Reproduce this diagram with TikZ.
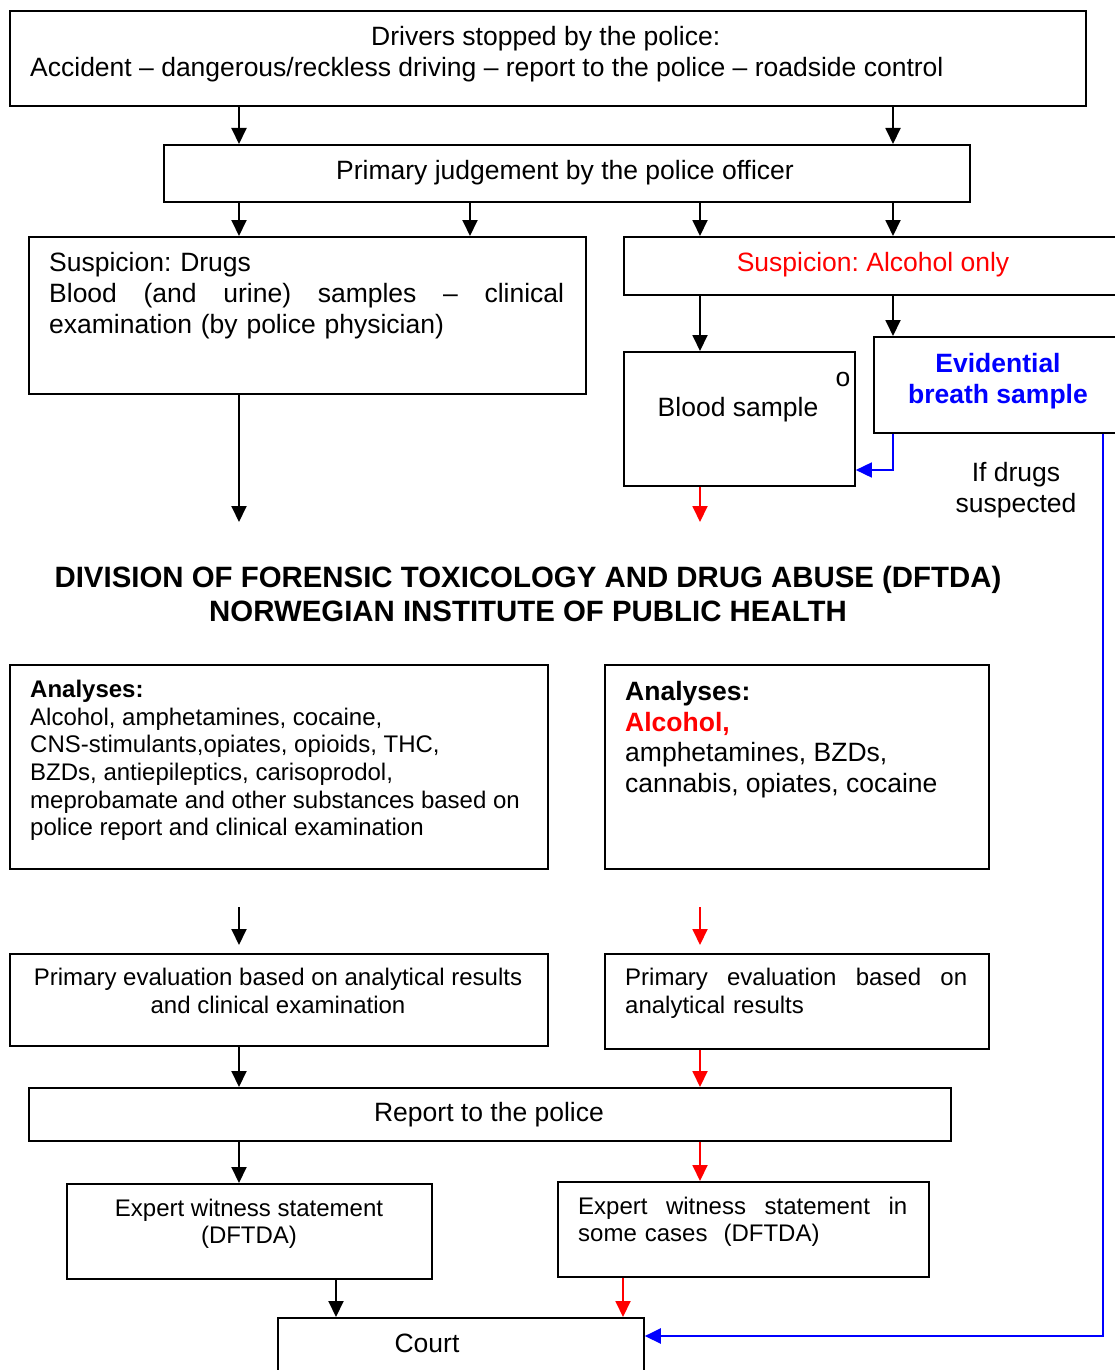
\documentclass[tikz,border=0pt]{standalone}
\usepackage{fontspec}
\setmainfont{Liberation Sans}
\usetikzlibrary{arrows.meta}
\frenchspacing
\newcommand\fsz[2]{\fontsize{#1}{#2}\selectfont}
\tikzset{
  box/.style={draw, line width=1.8pt, rectangle, inner sep=0pt, anchor=north west},
  txt/.style={inner sep=0pt, font=\fsz{26.5}{31}},
  small/.style={inner sep=0pt, font=\fsz{24}{27.6}},
  arr/.style={line width=1.9pt, -{Triangle[length=16pt,width=15pt]}},
  rarr/.style={arr, draw=red, fill=red},
  barr/.style={line width=1.6pt, draw=blue, -{Triangle[length=16pt,width=15pt]}},
  bline/.style={line width=2.4pt, draw=blue, -{Triangle[length=16pt,width=15pt]}},
}
\begin{document}
\begin{tikzpicture}[x=1pt,y=-1pt]
\useasboundingbox (0,0) rectangle (1115,1370);
% boxes
\node[box, minimum width=1076pt, minimum height=95pt] (top) at (9,10) {};
\node[box, minimum width=806pt, minimum height=57pt] (pj) at (163,144) {};
\node[box, minimum width=557pt, minimum height=157pt] (drugs) at (28,236) {};
\node[box, minimum width=497pt, minimum height=58pt] (alc) at (623,236) {};
\node[box, minimum width=231pt, minimum height=134pt] (blood) at (623,351) {};
\node[box, minimum width=247pt, minimum height=96pt] (breath) at (873,336) {};
\node[box, minimum width=538pt, minimum height=204pt] (anL) at (9,664) {};
\node[box, minimum width=384pt, minimum height=204pt] (anR) at (604,664) {};
\node[box, minimum width=538pt, minimum height=92pt] (peL) at (9,953) {};
\node[box, minimum width=384pt, minimum height=95pt] (peR) at (604,953) {};
\node[box, minimum width=922pt, minimum height=53pt] (rep) at (28,1087) {};
\node[box, minimum width=365pt, minimum height=95pt] (exL) at (66,1183) {};
\node[box, minimum width=371pt, minimum height=95pt] (exR) at (557,1181) {};
\node[box, minimum width=366pt, minimum height=62pt] (court) at (277,1317) {};
% texts
\node[txt, anchor=north west, align=left] (ttop) at (30,26)
  {\hspace*{341pt}Drivers stopped by the police:\\Accident -- dangerous/reckless driving -- report to the police -- roadside control};
\node[txt] (tpj) at (565,173) {Primary judgement by the police officer};
\node[txt, anchor=north west, text width=515pt, align=left] (tdrugs) at (49,252)
  {Suspicion: Drugs\\Blood \hfill (and \hfill urine) \hfill samples \hfill -- \hfill clinical\\examination (by police physician)};
\node[txt, text=red] (talc) at (873,265) {Suspicion: Alcohol only};
\node[txt] (tblood) at (738,410) {Blood sample};
\node[txt, anchor=base] (to) at (843,386) {o};
\node[txt, anchor=north, align=center, text=blue, font=\fsz{26.5}{31}\bfseries] (tbreath) at (998,353) {Evidential\\breath sample};
\node[txt, anchor=north, align=center] (tif) at (1016,462) {If drugs\\suspected};
\node[inner sep=0pt, anchor=north, align=center, font=\fsz{29.4}{34}\bfseries] (ttitle) at (528,566)
  {DIVISION OF FORENSIC TOXICOLOGY AND DRUG ABUSE (DFTDA)\\NORWEGIAN INSTITUTE OF PUBLIC HEALTH};
\node[small, anchor=north west, align=left] (tanL) at (30,680)
  {\textbf{Analyses:}\\Alcohol, amphetamines, cocaine,\\CNS-stimulants,opiates, opioids, THC,\\BZDs, antiepileptics, carisoprodol,\\meprobamate and other substances based on\\police report and clinical examination};
\node[txt, anchor=north west, align=left, font=\fsz{26.5}{30.7}] (tanR) at (625,681)
  {\textbf{Analyses:}\\\textcolor{red}{\textbf{Alcohol,}}\\amphetamines, BZDs,\\cannabis, opiates, cocaine};
\node[small, anchor=north, align=center, font=\fsz{24}{28}] (tpeL) at (278,968)
  {Primary evaluation based on analytical results\\and clinical examination};
\node[small, anchor=north west, text width=342pt, align=left, font=\fsz{24}{28}] (tpeR) at (625,968)
  {Primary \hfill evaluation \hfill based \hfill on\\analytical results};
\node[txt] (trep) at (489,1115) {Report to the police};
\node[small, anchor=north, align=center, font=\fsz{24}{27}] (texL) at (249,1199)
  {Expert witness statement\\(DFTDA)};
\node[small, anchor=north west, text width=329pt, align=left, font=\fsz{24}{27}] (texR) at (578,1197)
  {Expert \hfill witness \hfill statement \hfill in\\some cases\ \ (DFTDA)};
\node[txt] (tcourt) at (427,1343) {Court};
% free ends
\coordinate (c1) at (239,522);
\coordinate (c2) at (700,522);
\coordinate (c3) at (239,907);
\coordinate (c4) at (700,907);
% arrows
\draw[arr] (239,0 |- top.south) -- (239,0 |- pj.north);
\draw[arr] (893,0 |- top.south) -- (893,0 |- pj.north);
\draw[arr] (239,0 |- pj.south) -- (239,0 |- drugs.north);
\draw[arr] (470,0 |- pj.south) -- (470,0 |- drugs.north);
\draw[arr] (700,0 |- pj.south) -- (700,0 |- alc.north);
\draw[arr] (893,0 |- pj.south) -- (893,0 |- alc.north);
\draw[arr] (700,0 |- alc.south) -- (700,0 |- blood.north);
\draw[arr] (893,0 |- alc.south) -- (893,0 |- breath.north);
\draw[barr] (893,0 |- breath.south) |- (blood.east |- 0,470);
\draw[arr] (239,0 |- drugs.south) -- (c1);
\draw[rarr] (700,0 |- blood.south) -- (c2);
\draw[bline] (1103,0 |- breath.south) |- (court.east |- 0,1336);
\draw[arr, shorten >=8pt] (c3) -- (239,0 |- peL.north);
\draw[rarr, shorten >=8pt] (c4) -- (700,0 |- peR.north);
\draw[arr] (239,0 |- peL.south) -- (239,0 |- rep.north);
\draw[rarr] (700,0 |- peR.south) -- (700,0 |- rep.north);
\draw[arr] (239,0 |- rep.south) -- (239,0 |- exL.north);
\draw[rarr] (700,0 |- rep.south) -- (700,0 |- exR.north);
\draw[arr] (336,0 |- exL.south) -- (336,0 |- court.north);
\draw[rarr] (623,0 |- exR.south) -- (623,0 |- court.north);
\end{tikzpicture}
\end{document}
